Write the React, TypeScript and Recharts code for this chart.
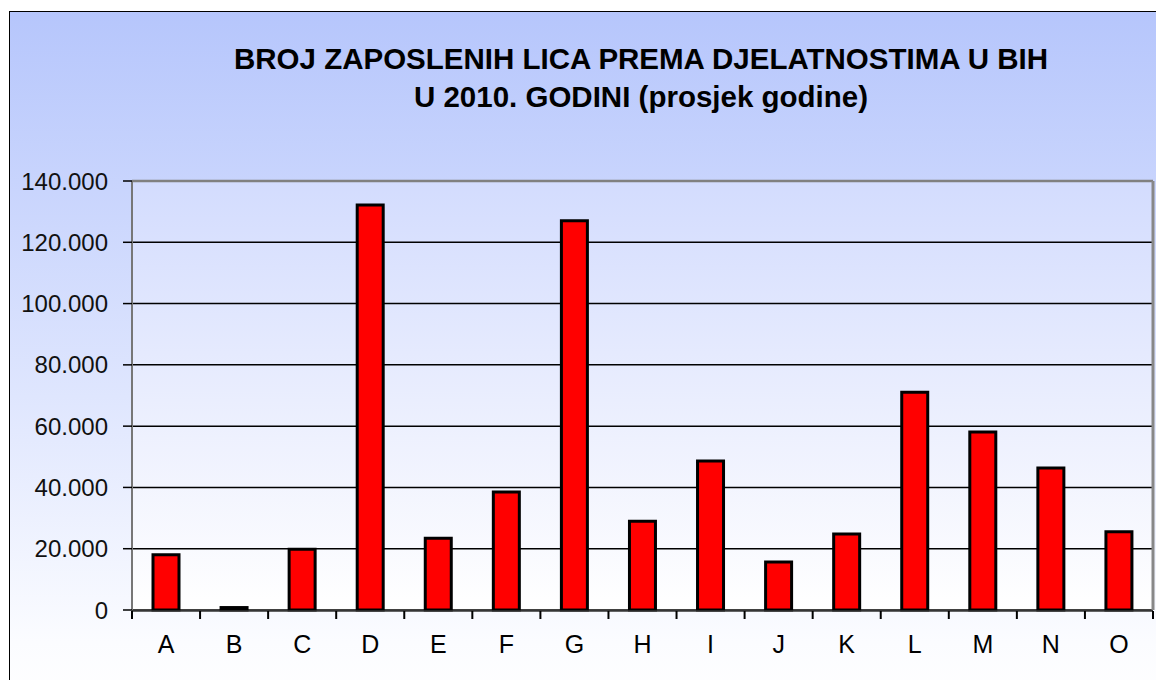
import React from "react";
import {
  Bar,
  BarChart,
  CartesianGrid,
  ReferenceLine,
  XAxis,
  YAxis,
} from "recharts";

const categories = ["A", "B", "C", "D", "E", "F", "G", "H", "I", "J", "K", "L", "M", "N", "O"];
const employed = [18000, 800, 19800, 132200, 23400, 38500, 127000, 29000, 48600, 15700, 24800, 71100, 58100, 46300, 25500];
const yTicks = [0, 20000, 40000, 60000, 80000, 100000, 120000, 140000];
const edgeTicks = [0, 1, 2, 3, 4, 5, 6, 7, 8, 9, 10, 11, 12, 13, 14, 15];

const data = categories.map((c, i) => ({ category: c, edge: i + 0.5, value: employed[i] }));

const font = "'Liberation Sans', Arial, sans-serif";

const formatThousands = (v: number) => (v === 0 ? "0" : `${v / 1000}.000`);

export default function App() {
  return (
    <div style={{ position: "relative", width: 1164, height: 688, margin: -8, overflow: "hidden", background: "#fff" }}>
      <div
        style={{
          position: "absolute",
          left: 9,
          top: 11,
          width: 1180,
          height: 700,
          borderLeft: "1px solid #000",
          borderTop: "1px solid #000",
          background: "linear-gradient(to bottom, #b6c6fc 0%, #dfe6fe 55%, #fbfcff 90%, #ffffff 100%)",
        }}
      />
      <div
        style={{
          position: "absolute",
          left: 641,
          top: 40,
          transform: "translateX(-50%)",
          whiteSpace: "nowrap",
          textAlign: "center",
          fontFamily: font,
          fontWeight: "bold",
          fontSize: 29.5,
          lineHeight: "38px",
          color: "#000",
        }}
      >
        <div>BROJ ZAPOSLENIH LICA PREMA DJELATNOSTIMA U BIH</div>
        <div>U 2010. GODINI (prosjek godine)</div>
      </div>
      <div style={{ position: "absolute", left: 0, top: 0 }}>
        <BarChart
          width={1164}
          height={688}
          data={data}
          margin={{ top: 181, right: 10, bottom: 76, left: 0 }}
          barSize={26}
        >
          <defs>
            <linearGradient id="plotBg" x1="0" y1="0" x2="0" y2="1">
              <stop offset="0%" stopColor="#d3dcfe" />
              <stop offset="60%" stopColor="#eef1fe" />
              <stop offset="100%" stopColor="#ffffff" />
            </linearGradient>
          </defs>
          <CartesianGrid
            vertical={false}
            stroke="#000"
            strokeWidth={1.5}
            fill="url(#plotBg)"
            fillOpacity={1}
          />
          <XAxis
            xAxisId="cat"
            dataKey="category"
            height={1}
            axisLine={false}
            tickLine={false}
            tickSize={0}
            tickMargin={25}
            interval={0}
            tick={{ fontSize: 25, fill: "#000", fontFamily: font }}
          />
          <XAxis
            xAxisId="edge"
            type="number"
            dataKey="edge"
            domain={[0, 15]}
            ticks={edgeTicks}
            height={1}
            axisLine={{ stroke: "#333", strokeWidth: 1.5 }}
            tickLine={{ stroke: "#000", strokeWidth: 2 }}
            tickSize={8}
            tickFormatter={() => ""}
          />
          <YAxis
            domain={[0, 140000]}
            ticks={yTicks}
            width={132}
            tickSize={9}
            tickMargin={15}
            tickFormatter={formatThousands}
            axisLine={{ stroke: "#777", strokeWidth: 2 }}
            tickLine={{ stroke: "#000", strokeWidth: 1.5 }}
            tick={{ fontSize: 24, fill: "#111", fontFamily: font }}
          />
          <YAxis
            yAxisId="right"
            orientation="right"
            width={1}
            domain={[0, 140000]}
            tick={false}
            tickLine={false}
            axisLine={{ stroke: "#888", strokeWidth: 3 }}
          />
          <ReferenceLine y={140000} stroke="#808080" strokeWidth={2.5} />
          <Bar
            dataKey="value"
            xAxisId="cat"
            fill="#ff0000"
            stroke="#000"
            strokeWidth={3}
            isAnimationActive={false}
          />
          <Bar
            dataKey="edge"
            xAxisId="edge"
            yAxisId="right"
            fill="none"
            stroke="none"
            legendType="none"
            isAnimationActive={false}
          />
        </BarChart>
      </div>
    </div>
  );
}
